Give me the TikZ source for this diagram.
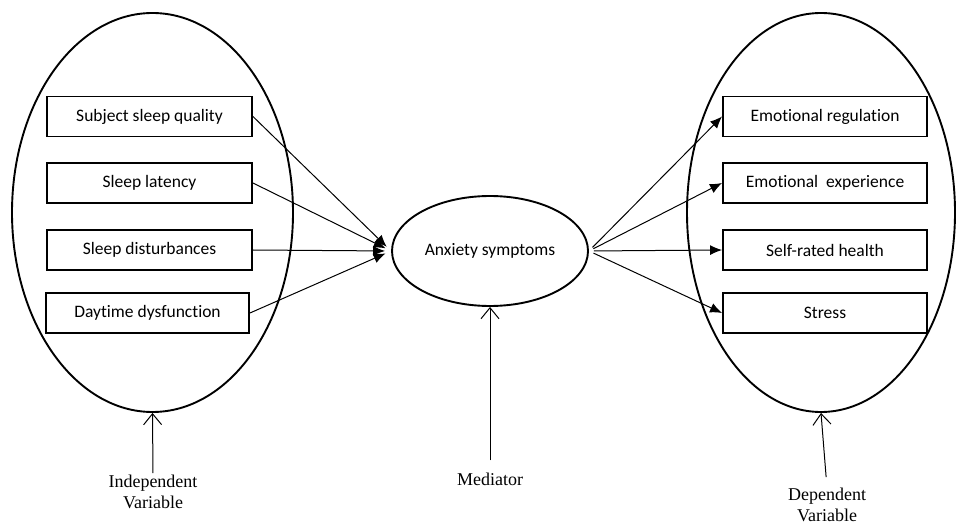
\documentclass[tikz,border=0pt]{standalone}
\usepackage{fontspec}
\setmainfont{Liberation Serif}
\newfontfamily\boxfont[Ligatures=NoCommon]{Carlito}
\usetikzlibrary{shapes.geometric,arrows.meta}
\begin{document}
\begin{tikzpicture}[x=1pt,y=-1pt,
  item/.style={draw, line width=1.9pt, minimum width=205pt, minimum height=40pt, inner sep=0pt,
    font=\boxfont\fontsize{17.5}{20}\selectfont},
  grp/.style={draw, ellipse, line width=1.9pt, inner sep=0pt},
  lab/.style={align=center, inner sep=0pt, font=\fontsize{18}{21}\selectfont},
  conn/.style={line width=1pt, -{Latex[length=12pt,width=10pt]}},
  upar/.style={line width=1pt, -{Straight Barb[length=11pt,width=18pt,line width=1pt]}}]
\useasboundingbox (0,0) rectangle (957,526);

% group ellipses
\node[grp, minimum width=281pt, minimum height=399pt] (L) at (152.5,212.5) {};
\node[grp, minimum width=268pt, minimum height=399pt] (R) at (821,212.5) {};
\node[grp, minimum width=196pt, minimum height=110pt, font=\boxfont\fontsize{17.5}{20}\selectfont] (M) at (490,251) {Anxiety symptoms};

% left boxes
\node[item] (l1) at (149.5,116.5) {Subject sleep quality};
\node[item] (l2) at (149.5,183) {Sleep latency};
\node[item] (l3) at (149.5,250) {Sleep disturbances};
\node[item, minimum width=203pt] (l4) at (147.5,313) {Daytime dysfunction};

% right boxes
\node[item, minimum width=204pt] (r1) at (825,116.5) {Emotional regulation};
\node[item, minimum width=204pt] (r2) at (825,183) {Emotional~ experience};
\node[item, minimum width=204pt] (r3) at (825,250) {Self-rated health};
\node[item, minimum width=204pt] (r4) at (825,313) {Stress};

% connectors into mediator
\foreach \b in {l1,l2,l3,l4}
  \draw[conn, shorten >=6pt] (\b.east) -- (M.west);

% connectors out of mediator
\foreach \b in {r1,r2,r3,r4}
  \draw[conn, shorten <=5pt] (M.east) -- (\b.west);

% labels
\node[lab, anchor=north] (iv) at (153,475) {Independent\\Variable};
\node[lab, anchor=base] (md) at (490,485) {Mediator};
\node[lab, anchor=north] (dv) at (827,488) {Dependent\\Variable};

\draw[upar, shorten <=2pt] (iv.north) -- (L.south);
\draw[upar, shorten <=12pt] (md.north) -- (M.south);
\draw[upar, shorten <=11pt] (dv.north) -- (R.south);
\end{tikzpicture}
\end{document}
